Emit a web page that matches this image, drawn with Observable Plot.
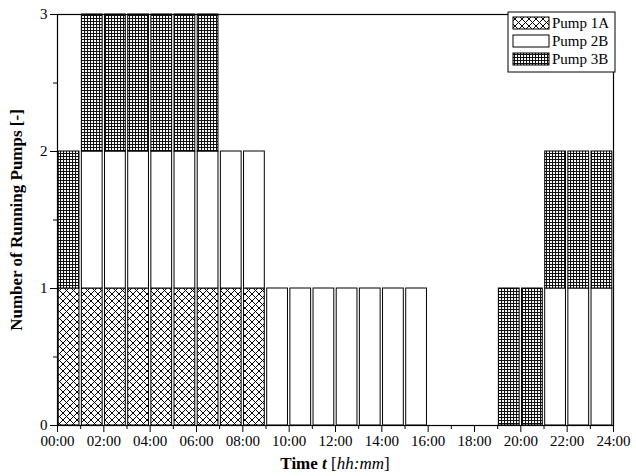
<!DOCTYPE html>
<html><head><meta charset="utf-8">
<script src="https://cdn.jsdelivr.net/npm/d3@7"></script>
<script src="https://cdn.jsdelivr.net/npm/@observablehq/plot@0.6"></script>
<style>body{margin:0;background:#fff;font-family:"Liberation Serif",serif} svg text{font-family:"Liberation Serif",serif}</style>
</head><body>
<svg width="0" height="0" style="position:absolute">
<defs>
<pattern id="p1A" width="7" height="7" patternUnits="userSpaceOnUse">
<rect width="7" height="7" fill="#fff"/>
<path d="M0,0L7,7M7,0L0,7" stroke="#000" stroke-width="1"/>
</pattern>
<pattern id="p3B" width="3" height="3" patternUnits="userSpaceOnUse">
<rect width="3" height="3" fill="#fff"/>
<path d="M0,0.5H3M0.5,0V3" stroke="#111" stroke-width="1.1"/>
</pattern>
</defs></svg>
<div id="chart"></div>
<script>
const hours = d3.range(24);
const pump1A = [1,1,1,1,1,1,1,1,1,0,0,0,0,0,0,0,0,0,0,0,0,0,0,0];
const pump2B = [0,1,1,1,1,1,1,1,1,1,1,1,1,1,1,1,0,0,0,0,0,1,1,1];
const pump3B = [1,1,1,1,1,1,1,0,0,0,0,0,0,0,0,0,0,0,0,1,1,1,1,1];
const pumps = ["Pump 1A","Pump 2B","Pump 3B"];
const fills = {"Pump 1A":"url(#p1A)","Pump 2B":"#fff","Pump 3B":"url(#p3B)"};
const rows = [];
hours.forEach((h,i)=>{
  let base=0;
  [["Pump 1A",pump1A],["Pump 2B",pump2B],["Pump 3B",pump3B]].forEach(([p,arr])=>{
    if(arr[i]){rows.push({pump:p,x1:h,x2:h+1,y1:base,y2:base+1});base+=1;}
  });
});
const xticks = d3.range(0,25,2);
const fmt = d=>String(d).padStart(2,"0")+":00";
const plot = Plot.plot({
  width:636,height:476,marginLeft:57,marginRight:23,marginTop:14,marginBottom:51,
  style:{fontFamily:"Liberation Serif, serif",fontSize:"15px",color:"#000",background:"#fff"},
  x:{type:"linear",domain:[0,24],label:null,axis:null},
  y:{type:"linear",domain:[0,3],label:null,axis:null},
  marks:[
    ...pumps.map(p=>Plot.rect(rows.filter(r=>r.pump===p),{x1:"x1",x2:"x2",y1:"y1",y2:"y2",fill:fills[p],stroke:"#000",strokeWidth:1,insetLeft:1.2,insetRight:1.2})),
    Plot.frame({stroke:"#000",strokeWidth:1.2}),
    Plot.axisX({ticks:d3.range(1,24,2),tickSize:4,tickFormat:()=>"",label:null}),
    Plot.axisX({ticks:xticks,tickSize:7,tickFormat:fmt,fontSize:15,label:null}),
    Plot.axisY({ticks:[0,1,2,3],tickSize:7,fontSize:15,tickFormat:d=>d,label:null}),
    Plot.axisY({ticks:[0.5,1.5,2.5],tickSize:4,tickFormat:()=>"",label:null})
  ]
});
document.getElementById("chart").appendChild(plot);
const svg = d3.select(plot);
const xl = svg.append("text").attr("x",(57+613)/2).attr("y",469).attr("text-anchor","middle")
  .style("font-size","17px").style("font-weight","bold");
xl.append("tspan").text("Time ");
xl.append("tspan").text("t").style("font-style","italic");
xl.append("tspan").text(" [").style("font-weight","normal");
xl.append("tspan").text("hh:mm").style("font-style","italic").style("font-weight","normal");
xl.append("tspan").text("]").style("font-weight","normal");
svg.append("text").attr("transform","translate(22,220) rotate(-90)").attr("text-anchor","middle")
  .style("font-size","17px").style("font-weight","bold")
  .text("Number of Running Pumps [-]");
const lg = svg.append("g").attr("transform","translate(508,12)");
lg.append("rect").attr("width","107").attr("height","60").attr("fill","#fff").attr("stroke","#000");
pumps.forEach((p,i)=>{
  lg.append("rect").attr("x",5).attr("y",5+i*18).attr("width",36).attr("height",12).attr("fill",fills[p]).attr("stroke","#000");
  lg.append("text").attr("x",44).attr("y",16+i*18).attr("text-anchor","start").style("font-size","15px").text(p);
});
</script></body></html>
